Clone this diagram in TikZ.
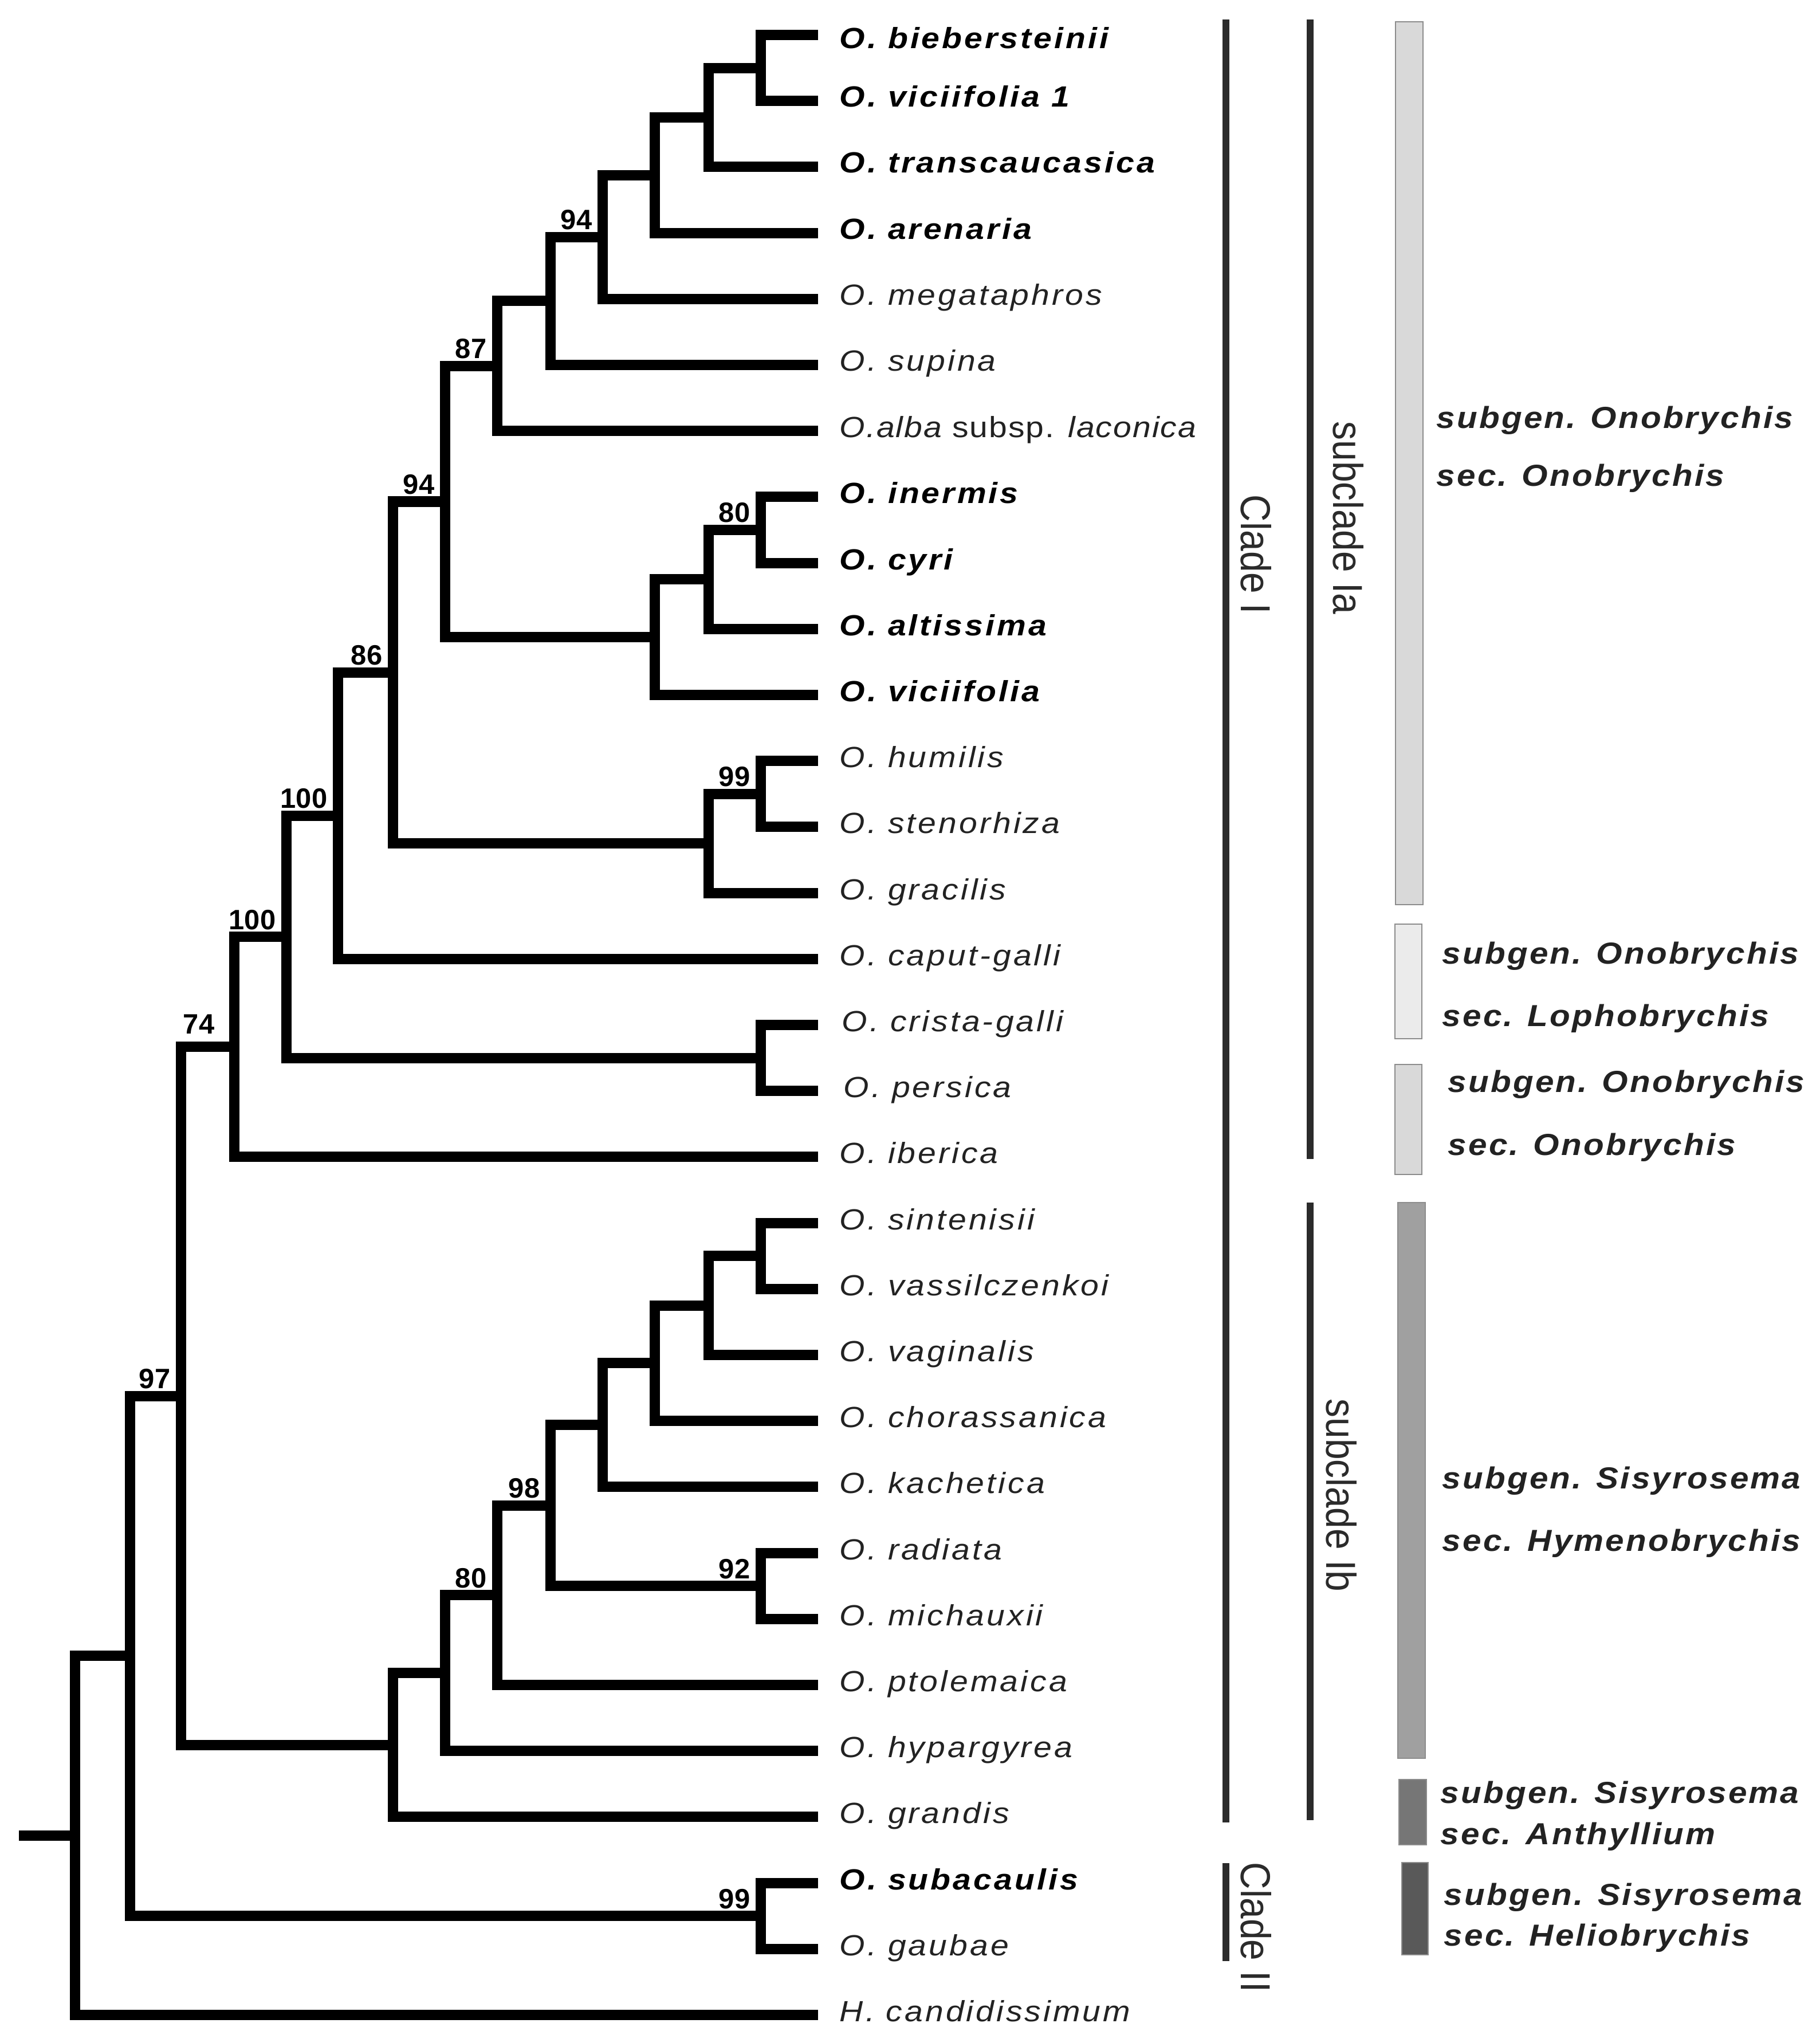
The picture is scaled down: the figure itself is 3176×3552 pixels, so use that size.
\documentclass[tikz,border=0pt]{standalone}
\usepackage{fontspec}
\setmainfont{Liberation Sans}
\newfontfamily\taxfont[FakeStretch=1.12,LetterSpace=8]{Liberation Sans}
\newfontfamily\taxfontn[FakeStretch=1.12,LetterSpace=4]{Liberation Sans}
\newfontfamily\grpfont[FakeStretch=1.1,LetterSpace=6]{Liberation Sans}
\newfontfamily\cladefont[FakeStretch=0.9]{Liberation Sans}
\definecolor{cbarc}{HTML}{2B2B2B}
\definecolor{boxA}{HTML}{D9D9D9}
\definecolor{boxB}{HTML}{EBEBEB}
\definecolor{boxC}{HTML}{A0A0A0}
\definecolor{boxD}{HTML}{767676}
\definecolor{boxE}{HTML}{595959}
\definecolor{boxline}{HTML}{8C8C8C}
\definecolor{txtreg}{HTML}{222222}
\begin{document}
\begin{tikzpicture}[x=0.01cm, y=-0.01cm,
  br/.style={draw=black, line width=0.18cm, line join=miter, line cap=butt},
  supp/.style={font=\bfseries\fontsize{13.9pt}{16pt}\selectfont, inner sep=0pt, anchor=south east, xshift=-0.18cm, yshift=0.12cm},
  tax/.style={font=\taxfont\fontsize{14.5pt}{17pt}\selectfont\itshape, text=txtreg, inner sep=0pt, anchor=base west},
  taxn/.style={tax, font=\taxfontn\fontsize{14.5pt}{17pt}\selectfont\itshape},
  taxb/.style={tax, text=black, font=\taxfont\fontsize{14.5pt}{17pt}\selectfont\bfseries\itshape},
  cladebar/.style={draw=cbarc, line width=0.115cm, line cap=butt},
  cladetxt/.style={font=\cladefont\fontsize{20.8pt}{24pt}\selectfont, text=cbarc, inner sep=0pt, rotate=-90, anchor=base},
  grpbox/.style={draw=boxline, line width=0.015cm},
  grp/.style={font=\grpfont\fontsize{15.1pt}{18pt}\selectfont\bfseries\itshape, text=txtreg, inner sep=0pt, anchor=base west}]
\useasboundingbox (0,0) rectangle (3176,3552);

% leaf tips
\foreach \i in {1,...,31} \coordinate (l\i) at (1428,{61+115.2*(\i-1)});

% internal nodes
\coordinate (nA) at (1328,118.6);
\coordinate (nB) at (1237,205);
\coordinate (nC) at (1143,305.8);
\coordinate (nD) at (1052,413.8);
\coordinate (nE) at (961,525.4);
\coordinate (nF) at (868,638.8);
\coordinate (nG) at (1328,925);
\coordinate (nH) at (1237,1011.4);
\coordinate (nI) at (1143,1112.2);
\coordinate (nJ) at (777,875.5);
\coordinate (nK) at (1328,1385.8);
\coordinate (nL) at (1237,1472.2);
\coordinate (nM) at (686,1173.9);
\coordinate (nN) at (590,1423.9);
\coordinate (nO) at (1328,1846.6);
\coordinate (nP) at (500,1635.2);
\coordinate (nQ) at (409,1827.3);
\coordinate (nS1) at (1328,2192.2);
\coordinate (nS2) at (1237,2278.6);
\coordinate (nS3) at (1143,2379.4);
\coordinate (nS4) at (1052,2487.4);
\coordinate (nS5) at (1328,2768.2);
\coordinate (nS6) at (961,2627.8);
\coordinate (nS7) at (868,2784.4);
\coordinate (nS8) at (777,2920.3);
\coordinate (nS9) at (686,3045.9);
\coordinate (nR) at (316,2436.6);
\coordinate (nT) at (1328,3344.2);
\coordinate (nU) at (227,2890.4);
\coordinate (nV) at (131,3203.7);
\coordinate (root) at (33,3203.7);

% branches
\draw[br] (l1) -| (nA) |- (l2);
\draw[br] (nA) -| (nB) |- (l3);
\draw[br] (nB) -| (nC) |- (l4);
\draw[br] (nC) -| (nD) |- (l5);
\draw[br] (nD) -| (nE) |- (l6);
\draw[br] (nE) -| (nF) |- (l7);
\draw[br] (l8) -| (nG) |- (l9);
\draw[br] (nG) -| (nH) |- (l10);
\draw[br] (nH) -| (nI) |- (l11);
\draw[br] (nF) -| (nJ) |- (nI);
\draw[br] (l12) -| (nK) |- (l13);
\draw[br] (nK) -| (nL) |- (l14);
\draw[br] (nJ) -| (nM) |- (nL);
\draw[br] (nM) -| (nN) |- (l15);
\draw[br] (l16) -| (nO) |- (l17);
\draw[br] (nN) -| (nP) |- (nO);
\draw[br] (nP) -| (nQ) |- (l18);
\draw[br] (l19) -| (nS1) |- (l20);
\draw[br] (nS1) -| (nS2) |- (l21);
\draw[br] (nS2) -| (nS3) |- (l22);
\draw[br] (nS3) -| (nS4) |- (l23);
\draw[br] (l24) -| (nS5) |- (l25);
\draw[br] (nS4) -| (nS6) |- (nS5);
\draw[br] (nS6) -| (nS7) |- (l26);
\draw[br] (nS7) -| (nS8) |- (l27);
\draw[br] (nS8) -| (nS9) |- (l28);
\draw[br] (nQ) -| (nR) |- (nS9);
\draw[br] (l29) -| (nT) |- (l30);
\draw[br] (nR) -| (nU) |- (nT);
\draw[br] (nU) -| (nV) |- (l31);
\draw[br] (root) -- (nV);

% support values
\node[supp] (sD) at (nD) {94};
\node[supp] (sF) at (nF) {87};
\node[supp] (sJ) at (nJ) {94};
\node[supp] (sG) at (nG) {80};
\node[supp] (sM) at (nM) {86};
\node[supp] (sK) at (nK) {99};
\node[supp] (sN) at (nN) {100};
\node[supp] (sP) at (nP) {100};
\node[supp, xshift=-0.16cm, yshift=0.1cm] (sQ) at (nQ) {74};
\node[supp] (sR) at (nR) {97};
\node[supp] (sS6) at (nS6) {98};
\node[supp] (sS7) at (nS7) {80};
\node[supp] (sS5) at (nS5) {92};
\node[supp] (sT) at (nT) {99};

% taxon labels
\node[taxb] (t1) at (1465,85) {O. biebersteinii};
\node[taxb] (t2) at (1465,187) {O. viciifolia 1};
\node[taxb] (t3) at (1465,302) {O. transcaucasica};
\node[taxb] (t4) at (1465,418) {O. arenaria};
\node[tax] (t5) at (1465,533) {O. megataphros};
\node[tax] (t6) at (1465,648) {O. supina};
\node[taxn] (t7) at (1465,763) {O.alba {\upshape subsp.} laconica};
\node[taxb] (t8) at (1465,878) {O. inermis};
\node[taxb] (t9) at (1465,994) {O. cyri};
\node[taxb] (t10) at (1465,1109) {O. altissima};
\node[taxb] (t11) at (1465,1224) {O. viciifolia};
\node[tax] (t12) at (1465,1339) {O. humilis};
\node[tax] (t13) at (1465,1454) {O. stenorhiza};
\node[tax] (t14) at (1465,1570) {O. gracilis};
\node[tax] (t15) at (1465,1685) {O. caput-galli};
\node[tax] (t16) at (1469,1800) {O. crista-galli};
\node[tax] (t17) at (1472,1915) {O. persica};
\node[tax] (t18) at (1465,2030) {O. iberica};
\node[tax] (t19) at (1465,2146) {O. sintenisii};
\node[tax] (t20) at (1465,2261) {O. vassilczenkoi};
\node[tax] (t21) at (1465,2376) {O. vaginalis};
\node[tax] (t22) at (1465,2491) {O. chorassanica};
\node[tax] (t23) at (1465,2606) {O. kachetica};
\node[tax] (t24) at (1465,2722) {O. radiata};
\node[tax] (t25) at (1465,2837) {O. michauxii};
\node[tax] (t26) at (1465,2952) {O. ptolemaica};
\node[tax] (t27) at (1465,3067) {O. hypargyrea};
\node[tax] (t28) at (1465,3182) {O. grandis};
\node[taxb] (t29) at (1465,3298) {O. subacaulis};
\node[tax] (t30) at (1465,3413) {O. gaubae};
\node[tax] (t31) at (1465,3528) {H. candidissimum};

% clade bars
\coordinate (cIa) at (2140,34);
\coordinate (cIb) at (2140,3181);
\coordinate (sIaa) at (2287,34);
\coordinate (sIab) at (2287,2023);
\coordinate (sIba) at (2287,2099);
\coordinate (sIbb) at (2287,3177);
\coordinate (cIIa) at (2140,3252);
\coordinate (cIIb) at (2140,3423);
\draw[cladebar] (cIa) -- (cIb);
\draw[cladebar] (sIaa) -- (sIab);
\draw[cladebar] (sIba) -- (sIbb);
\draw[cladebar] (cIIa) -- (cIIb);
\node[cladetxt] (lcI) at (2166,968) {Clade I};
\node[cladetxt] (lsIa) at (2327,904) {subclade Ia};
\node[cladetxt] (lsIb) at (2315,2610) {subclade Ib};
\node[cladetxt] (lcII) at (2166,3364) {Clade II};

% taxonomic boxes
\draw[grpbox, fill=boxA] (2436,38) rectangle (2484,1579);
\draw[grpbox, fill=boxB] (2435,1613) rectangle (2482,1813);
\draw[grpbox, fill=boxA] (2435,1858) rectangle (2482,2050);
\draw[grpbox, fill=boxC] (2440,2099) rectangle (2488,3069);
\draw[grpbox, fill=boxD] (2442,3106) rectangle (2490,3220);
\draw[grpbox, fill=boxE] (2447,3251) rectangle (2493,3412);

% taxonomic texts
\node[grp] (g1a) at (2507,748) {subgen. Onobrychis};
\node[grp] (g1b) at (2507,848) {sec. Onobrychis};
\node[grp] (g2a) at (2517,1682) {subgen. Onobrychis};
\node[grp] (g2b) at (2517,1791) {sec. Lophobrychis};
\node[grp] (g3a) at (2527,1906) {subgen. Onobrychis};
\node[grp] (g3b) at (2527,2016) {sec. Onobrychis};
\node[grp] (g4a) at (2517,2598) {subgen. Sisyrosema};
\node[grp] (g4b) at (2517,2707) {sec. Hymenobrychis};
\node[grp] (g5a) at (2514,3147) {subgen. Sisyrosema};
\node[grp] (g5b) at (2514,3219) {sec. Anthyllium};
\node[grp] (g6a) at (2520,3325) {subgen. Sisyrosema};
\node[grp] (g6b) at (2520,3396) {sec. Heliobrychis};
\end{tikzpicture}
\end{document}
